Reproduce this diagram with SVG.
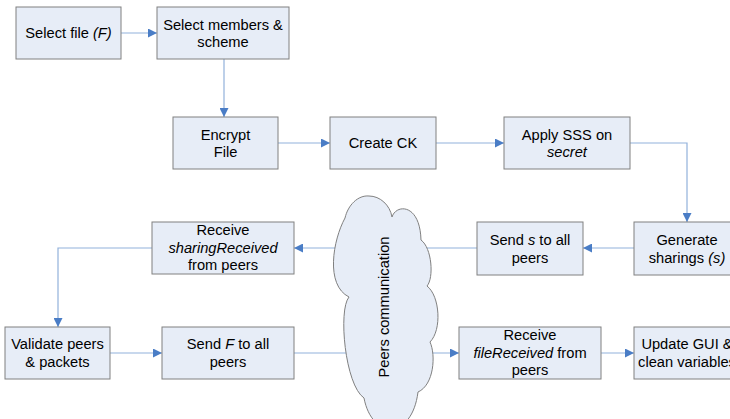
<svg xmlns="http://www.w3.org/2000/svg" width="730" height="419" viewBox="0 0 730 419">
<style>
.box{fill:#E7EDF7;stroke:#808080;stroke-width:1}
.t{font-family:"Liberation Sans",Arial,sans-serif;font-size:14.67px;fill:#000;text-anchor:middle}
.i{font-style:italic}
.c{fill:none;stroke:#92B1DB;stroke-width:1.2}
</style>
<defs>
<marker id="ah" viewBox="0 0 10 10" refX="10" refY="5" markerWidth="9" markerHeight="9" markerUnits="userSpaceOnUse" orient="auto">
<path d="M0,0 L10,5 L0,10 Z" fill="#4A7DC6"/>
</marker>
</defs>
<rect width="730" height="419" fill="#fff"/>
<g id="connectors">
<path class="c" d="M121,33 H157" marker-end="url(#ah)"/>
<path class="c" d="M224,59 V117" marker-end="url(#ah)"/>
<path class="c" d="M278,143 H330" marker-end="url(#ah)"/>
<path class="c" d="M436,143 H504" marker-end="url(#ah)"/>
<path class="c" d="M630,143 H687 V222" marker-end="url(#ah)"/>
<path class="c" d="M634,248 H583" marker-end="url(#ah)"/>
<path class="c" d="M477,248 H294" marker-end="url(#ah)"/>
<path class="c" d="M152,248 H58 V327" marker-end="url(#ah)"/>
<path class="c" d="M110,353 H162" marker-end="url(#ah)"/>
<path class="c" d="M294,353 H459" marker-end="url(#ah)"/>
<path class="c" d="M601,353 H634" marker-end="url(#ah)"/>
</g>
<g id="cloud">
<path d="M369,196 C380,196 390,205 392,217 C396,204 420,203 421,240 C432,248 434,278 427,286 C440,296 442,330 430,342 C436,355 434,385 418,392 C412,440 372,440 364,398 C345,385 338,310 349,297 C325,285 333,240 345,218 C348,205 358,195 369,196 Z" fill="#E7EDF7" stroke="#808080" stroke-width="1"/>
<text class="t" transform="translate(389,307) rotate(-90)">Peers communication</text>
</g>
<g id="n1"><rect class="box" x="16" y="7" width="105" height="52"/><text class="t" x="68.5" y="38">Select file <tspan class="i">(F)</tspan></text></g>
<g id="n2"><rect class="box" x="157" y="7" width="132" height="52"/><text class="t" x="223" y="29.5">Select members &amp;</text><text class="t" x="223" y="47">scheme</text></g>
<g id="n3"><rect class="box" x="173" y="117" width="105" height="52"/><text class="t" x="225.5" y="139.5">Encrypt</text><text class="t" x="225.5" y="157">File</text></g>
<g id="n4"><rect class="box" x="330" y="117" width="106" height="52"/><text class="t" x="383" y="148">Create CK</text></g>
<g id="n5"><rect class="box" x="504" y="117" width="126" height="52"/><text class="t" x="567" y="139.5">Apply SSS on</text><text class="t i" x="567" y="157">secret</text></g>
<g id="n6"><rect class="box" x="634" y="222" width="106" height="53"/><text class="t" x="687" y="245">Generate</text><text class="t" x="687" y="262.5">sharings <tspan class="i">(s)</tspan></text></g>
<g id="n7"><rect class="box" x="477" y="222" width="106" height="53"/><text class="t" x="530" y="245">Send <tspan class="i">s</tspan> to all</text><text class="t" x="530" y="262.5">peers</text></g>
<g id="n8"><rect class="box" x="152" y="222" width="142" height="52"/><text class="t" x="223" y="235">Receive</text><text class="t i" x="223" y="252.5">sharingReceived</text><text class="t" x="223" y="270">from peers</text></g>
<g id="n9"><rect class="box" x="5" y="327" width="105" height="52"/><text class="t" x="57.5" y="349">Validate peers</text><text class="t" x="57.5" y="366.5">&amp; packets</text></g>
<g id="n10"><rect class="box" x="162" y="327" width="132" height="52"/><text class="t" x="228" y="349">Send <tspan class="i">F</tspan> to all</text><text class="t" x="228" y="366.5">peers</text></g>
<g id="n11"><rect class="box" x="459" y="327" width="142" height="52"/><text class="t" x="530" y="340">Receive</text><text class="t" x="530" y="357.5"><tspan class="i">fileReceived</tspan> from</text><text class="t" x="530" y="375">peers</text></g>
<g id="n12"><rect class="box" x="634" y="327" width="106" height="52"/><text class="t" x="687" y="349">Update GUI &amp;</text><text class="t" x="687" y="366.5">clean variables</text></g>
</svg>
